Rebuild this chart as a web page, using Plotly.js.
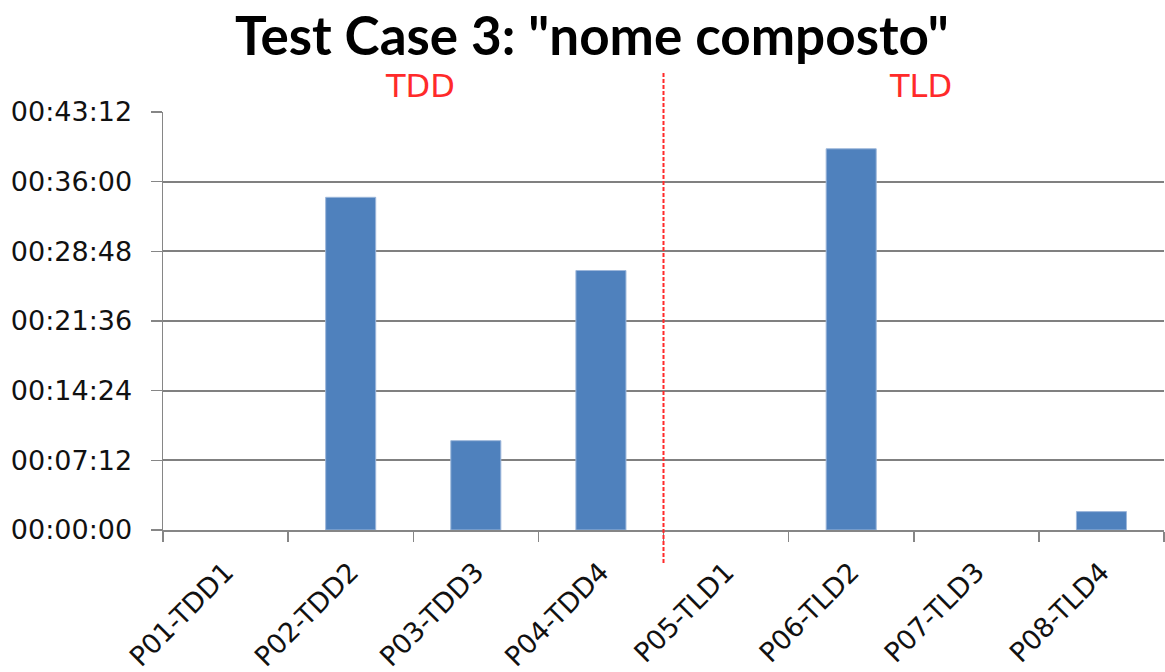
<!DOCTYPE html>
<html>
<head>
<meta charset="utf-8">
<script src="https://cdn.plot.ly/plotly-3.0.1.min.js"></script>
<style>html,body{margin:0;padding:0;background:#fff;}#chart{width:1165px;height:672px;}</style>
</head>
<body>
<div id="chart"></div>
<script>
var categories = ["P01-TDD1","P02-TDD2","P03-TDD3","P04-TDD4","P05-TLD1","P06-TLD2","P07-TLD3","P08-TLD4"];
// durations in seconds
var durations = [0, 2063, 554, 1609, 0, 2364, 0, 114];
var tickSeconds = [0, 432, 864, 1296, 1728, 2160, 2592];
var tickLabels = ["00:00:00","00:07:12","00:14:24","00:21:36","00:28:48","00:36:00","00:43:12"];
var groupLabels = ["TDD","TLD"];
var groupPositions = [1.55, 5.55];
var dividerPosition = 3.5;

var trace = {
  type: "bar",
  x: categories,
  y: durations,
  width: 0.4,
  marker: {color: "#4F81BD", line: {color: "#9DB7DA", width: durations.map(function(v){return v > 0 ? 1 : 0;})}},
  hoverinfo: "x+y"
};

var annotations = groupLabels.map(function(t, i){
  return {text: t, x: groupPositions[i], xref: "x", y: (530 - 86) / 418, yref: "paper",
          showarrow: false, xanchor: "center", yanchor: "middle",
          font: {family: "DejaVu Sans", size: 32, color: "#FF2A2A"}};
});

var layout = {
  width: 1165, height: 672,
  margin: {l: 163, r: 1, t: 112, b: 142, pad: 0},
  paper_bgcolor: "#fff", plot_bgcolor: "#fff",
  showlegend: false,
  bargap: 0.6,
  title: {text: 'Test Case 3: "nome composto"', x: 0.508, xref: "container", xanchor: "center",
          y: 1 - 36/672, yref: "container", yanchor: "middle",
          font: {family: "Lato", size: 53, color: "#000", weight: "bold"}},
  xaxis: {
    type: "category",
    tickangle: -45,
    tickson: "boundaries",
    ticks: "outside", ticklen: 10, tickcolor: "#868686", tickwidth: 1.5,
    showline: true, linecolor: "#868686", linewidth: 1.5,
    showgrid: false,
    tickfont: {family: "DejaVu Sans", size: 27, color: "#111"},
    ticklabelstandoff: 14,
    automargin: false,
    fixedrange: true
  },
  yaxis: {
    range: [0, 2592],
    tickvals: tickSeconds,
    ticktext: tickLabels,
    ticks: "outside", ticklen: 11, tickcolor: "#868686", tickwidth: 1.5,
    showline: true, linecolor: "#868686", linewidth: 1.5,
    showgrid: true, gridcolor: "#808080", gridwidth: 1.8,
    zeroline: false,
    tickfont: {family: "DejaVu Sans", size: 27, color: "#111"},
    ticklabelstandoff: 13,
    automargin: false,
    fixedrange: true
  },
  shapes: [{
    type: "line", xref: "x", yref: "paper",
    x0: dividerPosition, x1: dividerPosition, y0: -0.079, y1: 1.096,
    line: {color: "#FF2A2A", width: 2, dash: "4px,2px"}
  }],
  annotations: annotations
};

Plotly.newPlot("chart", [trace], layout, {displayModeBar: false, staticPlot: true});
</script>
</body>
</html>
